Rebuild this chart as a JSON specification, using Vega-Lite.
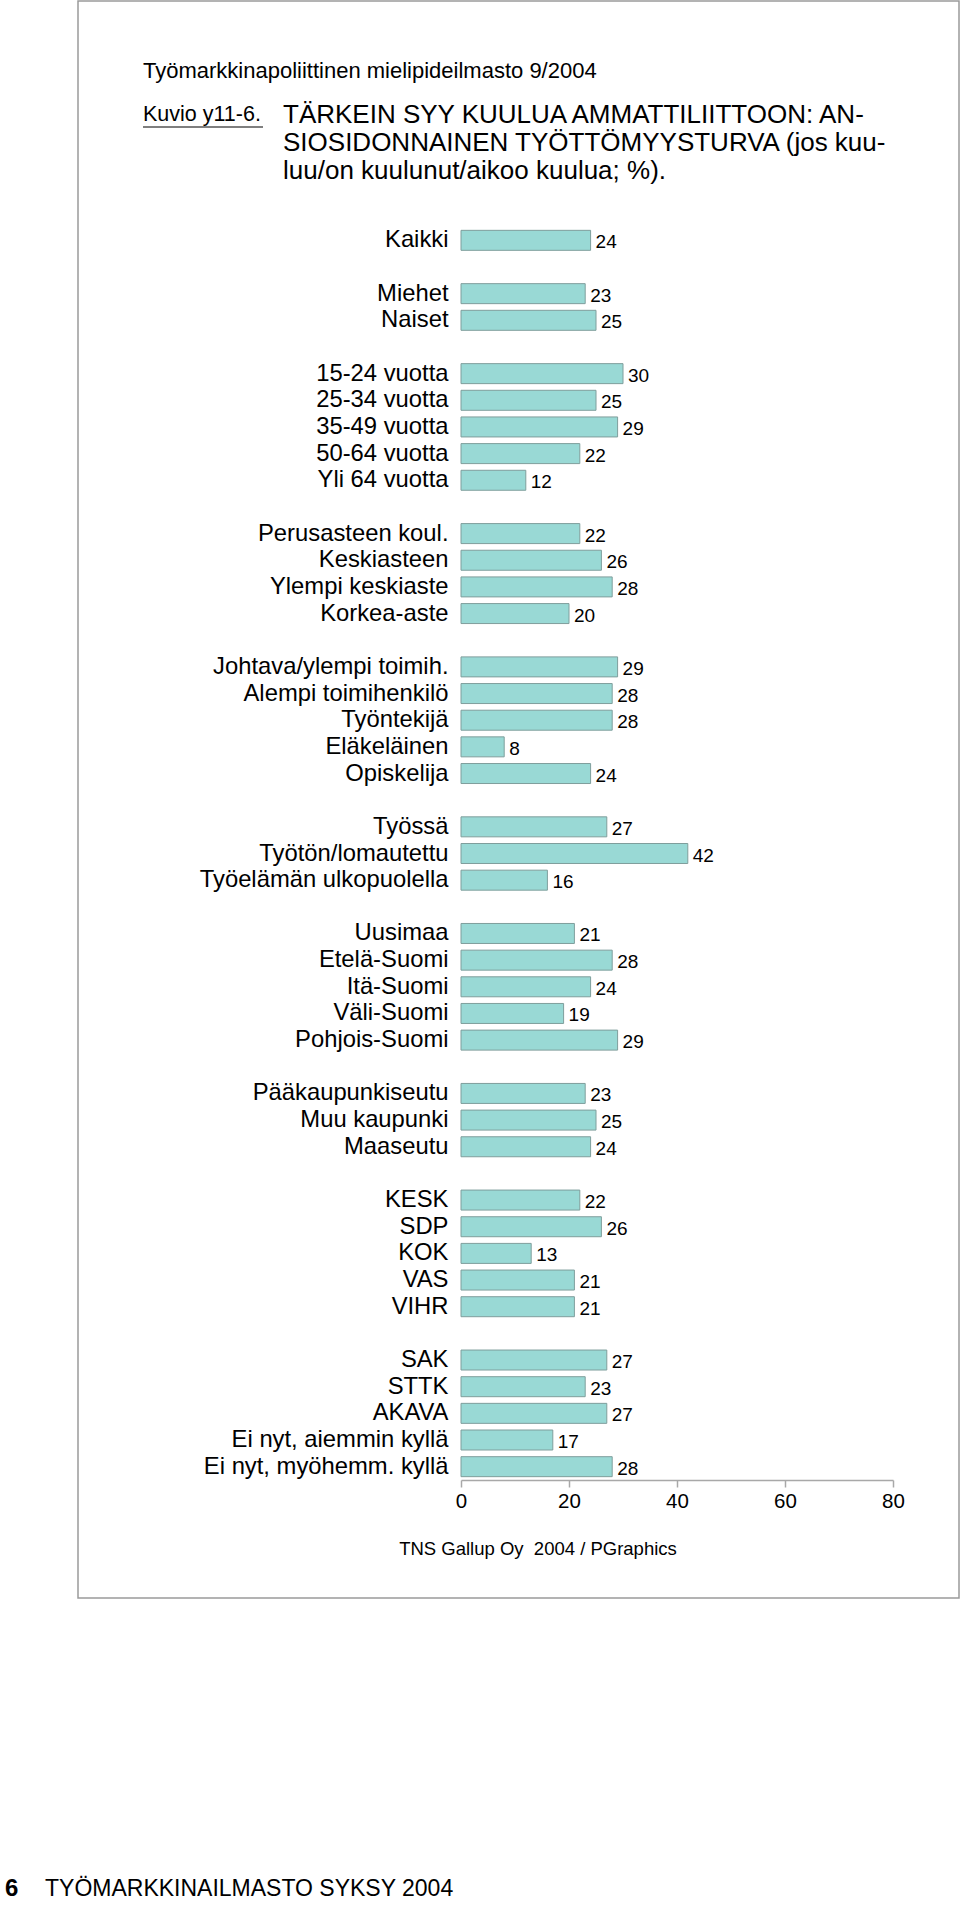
{
  "$schema": "https://vega.github.io/schema/vega-lite/v6.json",
  "width": 432,
  "height": 1253,
  "autosize": {"type": "none"},
  "padding": {"left": 461, "top": 227, "right": 67, "bottom": 425},
  "background": "white",
  "config": {
    "font": "Liberation Sans, Arial, Helvetica, sans-serif",
    "view": {"stroke": null}
  },
  "data": {
    "values": [
      {"g": "Kaikki", "v": 24},
      {"g": "Miehet", "v": 23},
      {"g": "Naiset", "v": 25},
      {"g": "15-24 vuotta", "v": 30},
      {"g": "25-34 vuotta", "v": 25},
      {"g": "35-49 vuotta", "v": 29},
      {"g": "50-64 vuotta", "v": 22},
      {"g": "Yli 64 vuotta", "v": 12},
      {"g": "Perusasteen koul.", "v": 22},
      {"g": "Keskiasteen", "v": 26},
      {"g": "Ylempi keskiaste", "v": 28},
      {"g": "Korkea-aste", "v": 20},
      {"g": "Johtava/ylempi toimih.", "v": 29},
      {"g": "Alempi toimihenkilö", "v": 28},
      {"g": "Työntekijä", "v": 28},
      {"g": "Eläkeläinen", "v": 8},
      {"g": "Opiskelija", "v": 24},
      {"g": "Työssä", "v": 27},
      {"g": "Työtön/lomautettu", "v": 42},
      {"g": "Työelämän ulkopuolella", "v": 16},
      {"g": "Uusimaa", "v": 21},
      {"g": "Etelä-Suomi", "v": 28},
      {"g": "Itä-Suomi", "v": 24},
      {"g": "Väli-Suomi", "v": 19},
      {"g": "Pohjois-Suomi", "v": 29},
      {"g": "Pääkaupunkiseutu", "v": 23},
      {"g": "Muu kaupunki", "v": 25},
      {"g": "Maaseutu", "v": 24},
      {"g": "KESK", "v": 22},
      {"g": "SDP", "v": 26},
      {"g": "KOK", "v": 13},
      {"g": "VAS", "v": 21},
      {"g": "VIHR", "v": 21},
      {"g": "SAK", "v": 27},
      {"g": "STTK", "v": 23},
      {"g": "AKAVA", "v": 27},
      {"g": "Ei nyt, aiemmin kyllä", "v": 17},
      {"g": "Ei nyt, myöhemm. kyllä", "v": 28}
    ]
  },
  "encoding": {
    "y": {
      "field": "g",
      "type": "nominal",
      "sort": null,
      "scale": {
        "domain": ["Kaikki", "_1", "Miehet", "Naiset", "_2", "15-24 vuotta", "25-34 vuotta", "35-49 vuotta", "50-64 vuotta", "Yli 64 vuotta", "_3", "Perusasteen koul.", "Keskiasteen", "Ylempi keskiaste", "Korkea-aste", "_4", "Johtava/ylempi toimih.", "Alempi toimihenkilö", "Työntekijä", "Eläkeläinen", "Opiskelija", "_5", "Työssä", "Työtön/lomautettu", "Työelämän ulkopuolella", "_6", "Uusimaa", "Etelä-Suomi", "Itä-Suomi", "Väli-Suomi", "Pohjois-Suomi", "_7", "Pääkaupunkiseutu", "Muu kaupunki", "Maaseutu", "_8", "KESK", "SDP", "KOK", "VAS", "VIHR", "_9", "SAK", "STTK", "AKAVA", "Ei nyt, aiemmin kyllä", "Ei nyt, myöhemm. kyllä"],
        "paddingInner": 0.25,
        "paddingOuter": 0.125
      },
      "axis": {
        "title": null,
        "domain": false,
        "ticks": false,
        "labelPadding": 13,
        "labelFontSize": 23.8,
        "labelColor": "#000000",
        "labelLimit": 0,
        "labelExpr": "indexof(datum.label, '_') == 0 ? '' : datum.label"
      }
    },
    "x": {
      "field": "v",
      "type": "quantitative",
      "scale": {"domain": [0, 80], "nice": false},
      "axis": {
        "title": null,
        "values": [0, 20, 40, 60, 80],
        "grid": false,
        "domainColor": "#a8a8a8",
        "domainWidth": 1.5,
        "tickColor": "#a8a8a8",
        "tickWidth": 1.5,
        "tickSize": 7,
        "labelPadding": 4,
        "labelFontSize": 20.5,
        "labelColor": "#000000",
        "labelFlush": false
      }
    }
  },
  "layer": [
    {
      "mark": {"type": "bar", "fill": "#99d9d5", "stroke": "#7f9e9c", "strokeWidth": 1}
    },
    {
      "mark": {"type": "text", "align": "left", "baseline": "middle", "dx": 5, "dy": 2, "fontSize": 19, "color": "#000000"},
      "encoding": {"text": {"field": "v", "type": "quantitative"}}
    },
    {
      "data": {"values": [{}]},
      "mark": {"type": "rect", "fillOpacity": 0, "stroke": "#9a9a9a", "strokeWidth": 1.5},
      "encoding": {"x": {"value": -383}, "x2": {"value": 498}, "y": {"value": -226}, "y2": {"value": 1371}}
    },
    {
      "data": {"values": [{}]},
      "mark": {"type": "text", "align": "left", "baseline": "middle", "fontSize": 22, "color": "#000000", "text": "Työmarkkinapoliittinen mielipideilmasto 9/2004"},
      "encoding": {"x": {"value": -318}, "y": {"value": -156}}
    },
    {
      "data": {"values": [{}]},
      "mark": {"type": "text", "align": "left", "baseline": "middle", "fontSize": 21.5, "color": "#000000", "text": "Kuvio y11-6."},
      "encoding": {"x": {"value": -318}, "y": {"value": -112}}
    },
    {
      "data": {"values": [{}]},
      "mark": {"type": "rule", "color": "#000000", "strokeWidth": 1.2},
      "encoding": {"x": {"value": -318}, "x2": {"value": -198}, "y": {"value": -100}}
    },
    {
      "data": {"values": [{}]},
      "mark": {"type": "text", "align": "left", "baseline": "middle", "fontSize": 26, "lineHeight": 28, "color": "#000000", "text": ["TÄRKEIN SYY KUULUA AMMATTILIITTOON: AN-", "SIOSIDONNAINEN TYÖTTÖMYYSTURVA (jos kuu-", "luu/on kuulunut/aikoo kuulua; %)."]},
      "encoding": {"x": {"value": -178}, "y": {"value": -112}}
    },
    {
      "data": {"values": [{}]},
      "mark": {"type": "text", "align": "center", "baseline": "middle", "fontSize": 18.5, "color": "#000000", "text": "TNS Gallup Oy\u00a0 2004 / PGraphics"},
      "encoding": {"x": {"value": 77}, "y": {"value": 1322}}
    },
    {
      "data": {"values": [{}]},
      "mark": {"type": "text", "align": "left", "baseline": "middle", "fontSize": 24, "fontWeight": "bold", "color": "#000000", "text": "6"},
      "encoding": {"x": {"value": -456}, "y": {"value": 1662}}
    },
    {
      "data": {"values": [{}]},
      "mark": {"type": "text", "align": "left", "baseline": "middle", "fontSize": 23, "color": "#000000", "text": "TYÖMARKKINAILMASTO SYKSY 2004"},
      "encoding": {"x": {"value": -416}, "y": {"value": 1662}}
    }
  ]
}
